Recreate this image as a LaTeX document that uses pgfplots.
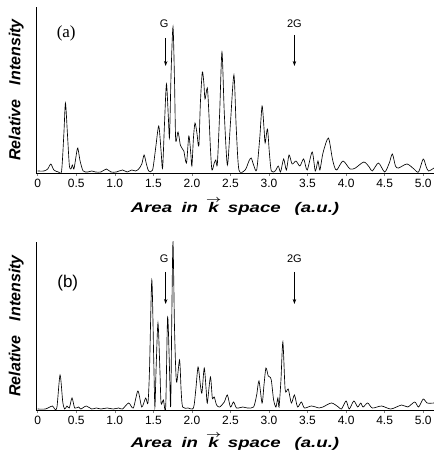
\documentclass[border=0pt]{standalone}
\usepackage{pgfplots}
\pgfplotsset{compat=1.18}
\usepackage{fontspec}
\setmainfont{Liberation Sans}
\newfontfamily\serifa{Liberation Serif}
\usetikzlibrary{arrows.meta}
\usepackage{amsmath}
\newcommand{\kvec}{\mbox{\rlap{\raisebox{0.76em}{\hspace{-0.12em}\fontsize{10}{10}\selectfont$\boldsymbol{\rightarrow}$}}k}}
\newcommand{\xlab}{\scalebox{1.33}[1]{Area\hspace{0.5em}in\hspace{0.55em}\kvec\hspace{0.5em}space\hspace{0.75em}(a.u.)}}
\pgfplotsset{
  panel/.style={
    scale only axis, width=398pt,
    xmin=-0.022, xmax=5.14, ymin=0,
    axis lines=left, axis line style={-, line width=0.6pt},
    xtick={0,0.5,1,1.5,2,2.5,3,3.5,4,4.5,5},
    xticklabels={0,0.5,1.0,1.5,2.0,2.5,3.0,3.5,4.0,4.5,5.0},
    ytick=\empty,
    tick align=outside, major tick length=3pt,
    tick style={line width=0.5pt},
    /pgf/number format/assume math mode=true,
    ticklabel style={font=\fontsize{12}{14}\selectfont},
    xlabel={\xlab},
    ylabel={Relative\hspace{0.9em}Intensity},
    xlabel style={font=\fontsize{14}{16}\selectfont\bfseries\itshape},
    ylabel style={font=\fontsize{16}{18}\selectfont\bfseries\itshape,
      at={(axis description cs:-0.022,0.5)},anchor=south},
    clip=true,
  },
  curve/.style={black, line width=0.65pt, smooth, tension=0.45, no marks},
}
\pgfplotstableread{
x y
0.00 2
0.08 2
0.13 4
0.17 9
0.21 3
0.27 1
0.31 2
0.34 40
0.36 70
0.385 40
0.41 8
0.43 4
0.45 8
0.47 4
0.50 18
0.52 25
0.55 12
0.59 2
0.65 1
0.70 2
0.75 1
0.82 1
0.89 4
0.95 1
1.02 1
1.10 3
1.16 1
1.22 3
1.27 2
1.31 4
1.35 9
1.38 18
1.41 9
1.44 2
1.49 3
1.53 25
1.57 47
1.60 22
1.62 5
1.645 50
1.67 89
1.695 55
1.71 36
1.73 100
1.755 146
1.775 90
1.79 33
1.82 41
1.85 28
1.87 25
1.895 22
1.93 10
1.96 37
1.985 20
2.00 7
2.02 35
2.04 50
2.065 40
2.09 27
2.11 70
2.135 101
2.155 90
2.17 74
2.20 85
2.22 60
2.24 25
2.26 3
2.29 10
2.31 13
2.33 9
2.36 60
2.39 121
2.42 60
2.46 8
2.50 50
2.545 98
2.575 45
2.61 3
2.69 3
2.74 12
2.77 15
2.80 8
2.84 3
2.88 35
2.91 67
2.935 45
2.95 30
2.98 44
3.005 20
3.03 2
3.08 2
3.12 7
3.15 1
3.19 14
3.225 3
3.26 18
3.30 9
3.35 12
3.40 7
3.45 14
3.495 3
3.56 21
3.60 2
3.635 12
3.66 3
3.70 20
3.77 35
3.82 15
3.85 6
3.88 3
3.96 12
4.05 4
4.12 5
4.23 11
4.30 6
4.34 2
4.42 10
4.50 1
4.56 10
4.60 19
4.64 7
4.68 5
4.79 9
4.88 4
4.94 1
5.00 14
5.04 6
5.07 2
5.14 5
}\dataA
\pgfplotstableread{
x y
0.00 1
0.10 1
0.19 4
0.22 1
0.25 3
0.29 35
0.325 8
0.35 1
0.38 4
0.41 2
0.445 12
0.48 2
0.53 3
0.56 1
0.63 4
0.70 1
0.76 2
0.82 1
0.90 2
0.98 1
1.05 2
1.10 1
1.18 7
1.24 2
1.30 19
1.35 3
1.40 12
1.43 7
1.45 40
1.48 130
1.505 50
1.52 3
1.535 40
1.56 87
1.585 40
1.60 7
1.63 10
1.66 3
1.685 93
1.71 40
1.725 4
1.74 98
1.755 168
1.775 80
1.80 28
1.84 50
1.86 20
1.88 3
1.95 2
2.02 2
2.05 20
2.08 43
2.11 25
2.13 17
2.16 42
2.185 20
2.20 7
2.24 33
2.265 12
2.29 13
2.32 5
2.36 3
2.42 8
2.46 15
2.50 3
2.54 8
2.58 2
2.66 3
2.72 2
2.80 3
2.84 15
2.87 29
2.91 7
2.935 25
2.96 42
2.99 34
3.01 33
3.03 30
3.06 10
3.09 3
3.115 12
3.13 3
3.155 30
3.18 68
3.21 20
3.25 21
3.29 7
3.33 15
3.37 3
3.42 8
3.46 2
3.55 4
3.65 2
3.70 3
3.81 7
3.90 3
3.94 1
4.00 9
4.04 1
4.10 9
4.15 3
4.19 7
4.22 3
4.28 7
4.34 2
4.46 4
4.58 1
4.72 5
4.80 3
4.89 8
4.94 3
5.00 11
5.05 7
5.14 7
}\dataB
\begin{document}
\begin{tikzpicture}
\path[use as bounding box] (0,0) rectangle (434pt,456pt);
\begin{axis}[panel, at={(36pt,283pt)}, anchor=south west, height=166pt, ymax=166,
  xlabel style={at={(axis description cs:0.5,-0.205)},anchor=center}]
\addplot[curve] table[x=x,y=y] {\dataA};
\node[font=\serifa\fontsize{17}{19}\selectfont] at (axis cs:0.37,140) {(a)};
\node[font=\fontsize{11}{13}\selectfont] at (axis cs:1.64,149) {G};
\node[font=\fontsize{11}{13}\selectfont] at (axis cs:3.33,149) {2G};
\draw[line width=0.8pt,-{Stealth[length=5pt,width=3.5pt]}] (axis cs:1.66,135) -- (axis cs:1.66,107);
\draw[line width=0.8pt,-{Stealth[length=5pt,width=3.5pt]}] (axis cs:3.33,138) -- (axis cs:3.33,107);
\end{axis}
\begin{axis}[panel, at={(36pt,46pt)}, anchor=south west, height=168pt, ymax=168,
  xlabel style={at={(axis description cs:0.5,-0.19)},anchor=center}]
\addplot[curve] table[x=x,y=y] {\dataB};
\node[font=\fontsize{17}{19}\selectfont] at (axis cs:0.39,127) {(b)};
\node[font=\fontsize{11}{13}\selectfont] at (axis cs:1.64,151) {G};
\node[font=\fontsize{11}{13}\selectfont] at (axis cs:3.33,151) {2G};
\draw[line width=0.8pt,-{Stealth[length=5pt,width=3.5pt]}] (axis cs:1.66,138) -- (axis cs:1.66,106);
\draw[line width=0.8pt,-{Stealth[length=5pt,width=3.5pt]}] (axis cs:3.33,138) -- (axis cs:3.33,106);
\end{axis}
\end{tikzpicture}
\end{document}
